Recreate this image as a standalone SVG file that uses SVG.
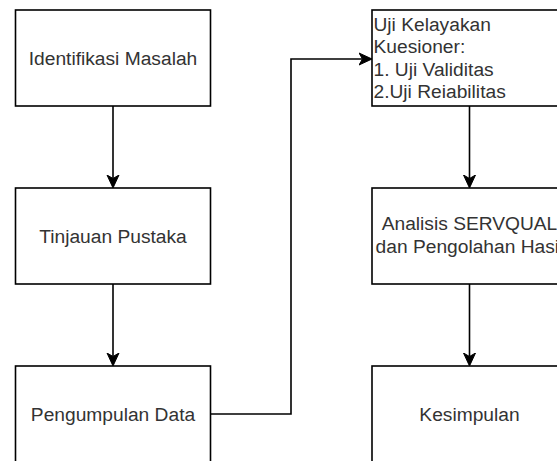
<svg xmlns="http://www.w3.org/2000/svg" width="557" height="461" viewBox="0 0 557 461">
  <style>
    .box { fill: #ffffff; stroke: #000000; stroke-width: 1.6; }
    .lbl { font-family: "Liberation Sans", Arial, Helvetica, sans-serif; font-size: 19.2px; fill: #333333; }
    .c { text-anchor: middle; }
    .edge { fill: none; stroke: #000000; stroke-width: 1.6; }
  </style>
  <defs>
    <marker id="arrow" viewBox="-4 -7 14 14" markerWidth="14" markerHeight="14" refX="0" refY="0" markerUnits="userSpaceOnUse" orient="auto">
      <path d="M9.5,0 L-3.5,-6 L0,0 L-3.5,6 Z" fill="#000000" stroke="#000000" stroke-width="1"/>
    </marker>
  </defs>
  <rect width="557" height="461" fill="#ffffff"/>

  <g id="connectors">
    <path class="edge" d="M113,106 V178.5" marker-end="url(#arrow)"/>
    <path class="edge" d="M113,284 V356.5" marker-end="url(#arrow)"/>
    <path class="edge" d="M210.5,414 H291 V59 H362.5" marker-end="url(#arrow)"/>
    <path class="edge" d="M469.5,106 V178.5" marker-end="url(#arrow)"/>
    <path class="edge" d="M469.5,284 V356.5" marker-end="url(#arrow)"/>
  </g>

  <g id="identifikasi">
    <rect class="box" x="15.5" y="10" width="195" height="96"/>
    <text class="lbl c" x="113" y="64.5">Identifikasi Masalah</text>
  </g>
  <g id="tinjauan">
    <rect class="box" x="15.5" y="188" width="195" height="96"/>
    <text class="lbl c" x="113" y="242.5">Tinjauan Pustaka</text>
  </g>
  <g id="pengumpulan">
    <rect class="box" x="15.5" y="366" width="195" height="96"/>
    <text class="lbl c" x="113" y="420.5">Pengumpulan Data</text>
  </g>
  <g id="uji">
    <rect class="box" x="372" y="10" width="195" height="96"/>
    <text class="lbl" x="373.5" y="30.5">Uji Kelayakan</text>
    <text class="lbl" x="373.5" y="53">Kuesioner:</text>
    <text class="lbl" x="373.5" y="75.5">1. Uji Validitas</text>
    <text class="lbl" x="373.5" y="98">2.Uji Reiabilitas</text>
  </g>
  <g id="analisis">
    <rect class="box" x="372" y="188" width="195" height="96"/>
    <text class="lbl c" x="469.5" y="230">Analisis SERVQUAL</text>
    <text class="lbl c" x="469.5" y="253">dan Pengolahan Hasil</text>
  </g>
  <g id="kesimpulan">
    <rect class="box" x="372" y="366" width="195" height="96"/>
    <text class="lbl c" x="469.5" y="420.5">Kesimpulan</text>
  </g>
</svg>
